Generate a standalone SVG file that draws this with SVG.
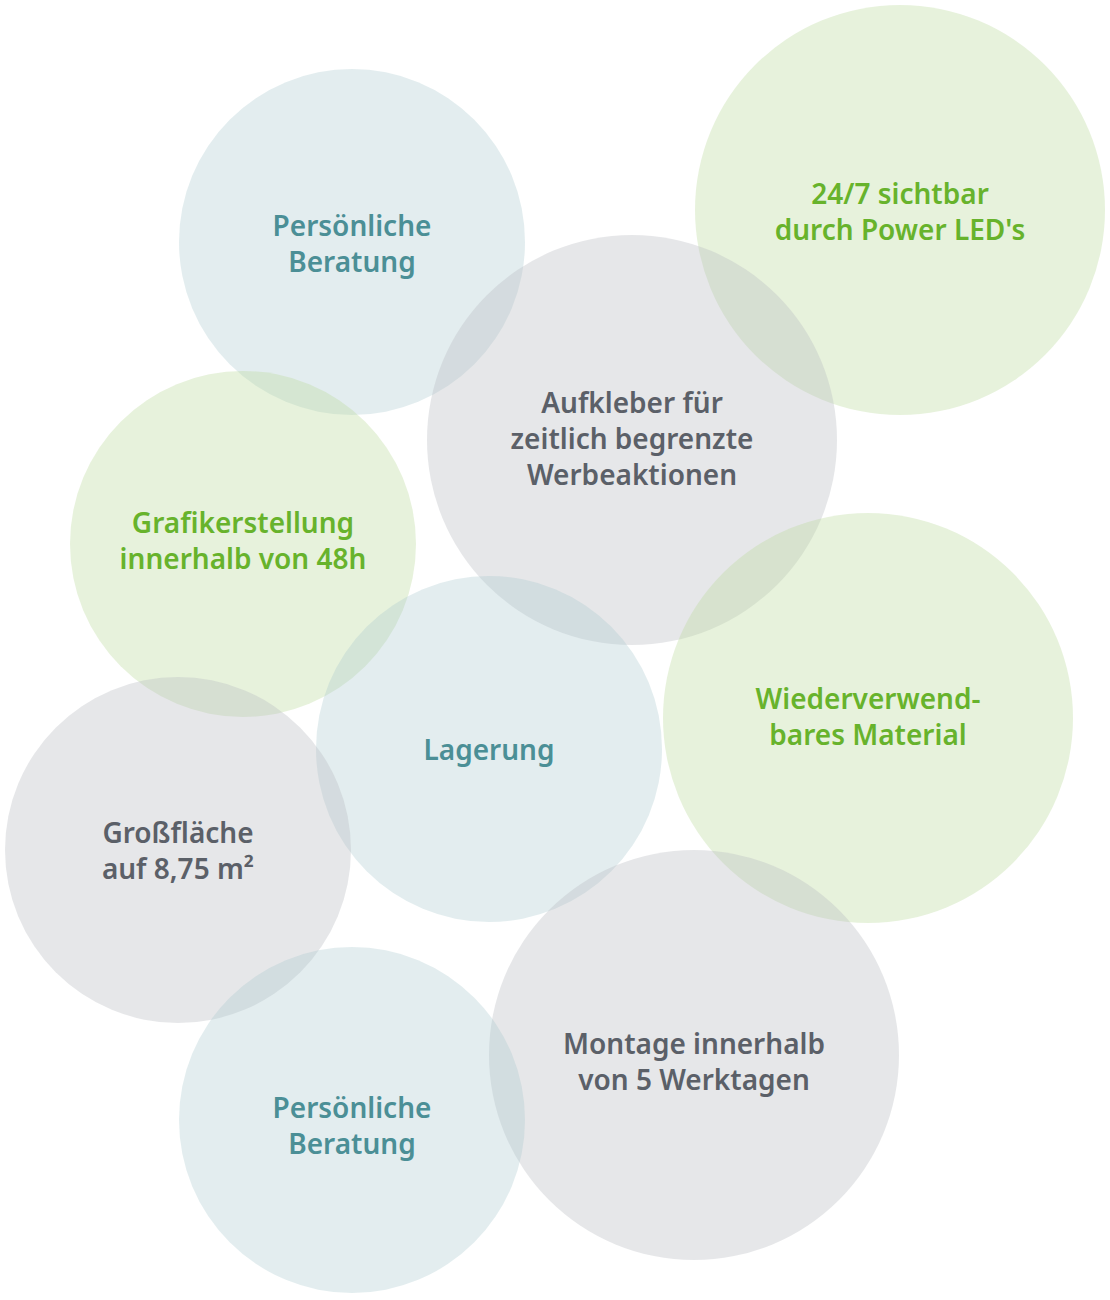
<svg xmlns="http://www.w3.org/2000/svg" width="1110" height="1300" viewBox="0 0 1110 1300">
<style>
.b{fill:#a9c7cc;fill-opacity:0.32}
.g{fill:#bddb9e;fill-opacity:0.36}
.k{fill:#b9bcc3;fill-opacity:0.36}
text{font-family:"Noto Sans","Liberation Sans",sans-serif;font-size:28px;font-weight:600;text-anchor:middle}
.tb{fill:#4b8f96}.tg{fill:#67b32c}.tk{fill:#5b6068}
</style>
<rect width="1110" height="1300" fill="#fff"/>
<g id="n1"><circle class="b" cx="352" cy="242" r="173"/><text class="tb" x="352" y="236">Persönliche</text><text class="tb" x="352" y="272">Beratung</text></g>
<g id="n2"><circle class="g" cx="900" cy="210" r="205"/><text class="tg" x="900" y="204">24/7 sichtbar</text><text class="tg" x="900" y="240">durch Power LED's</text></g>
<g id="n3"><circle class="k" cx="632" cy="440" r="205"/><text class="tk" x="632" y="413">Aufkleber für</text><text class="tk" x="632" y="449">zeitlich begrenzte</text><text class="tk" x="632" y="485">Werbeaktionen</text></g>
<g id="n4"><circle class="g" cx="243" cy="544" r="173"/><text class="tg" x="243" y="533">Grafikerstellung</text><text class="tg" x="243" y="569">innerhalb von 48h</text></g>
<g id="n5"><circle class="g" cx="868" cy="718" r="205"/><text class="tg" x="868" y="709">Wiederverwend-</text><text class="tg" x="868" y="745">bares Material</text></g>
<g id="n6"><circle class="b" cx="489" cy="749" r="173"/><text class="tb" x="489" y="760">Lagerung</text></g>
<g id="n7"><circle class="k" cx="178" cy="850" r="173"/><text class="tk" x="178" y="843">Großfläche</text><text class="tk" x="178" y="879">auf 8,75 m²</text></g>
<g id="n8"><circle class="k" cx="694" cy="1055" r="205"/><text class="tk" x="694" y="1054">Montage innerhalb</text><text class="tk" x="694" y="1090">von 5 Werktagen</text></g>
<g id="n9"><circle class="b" cx="352" cy="1120" r="173"/><text class="tb" x="352" y="1118">Persönliche</text><text class="tb" x="352" y="1154">Beratung</text></g>
<g id="connectors"/>
</svg>
